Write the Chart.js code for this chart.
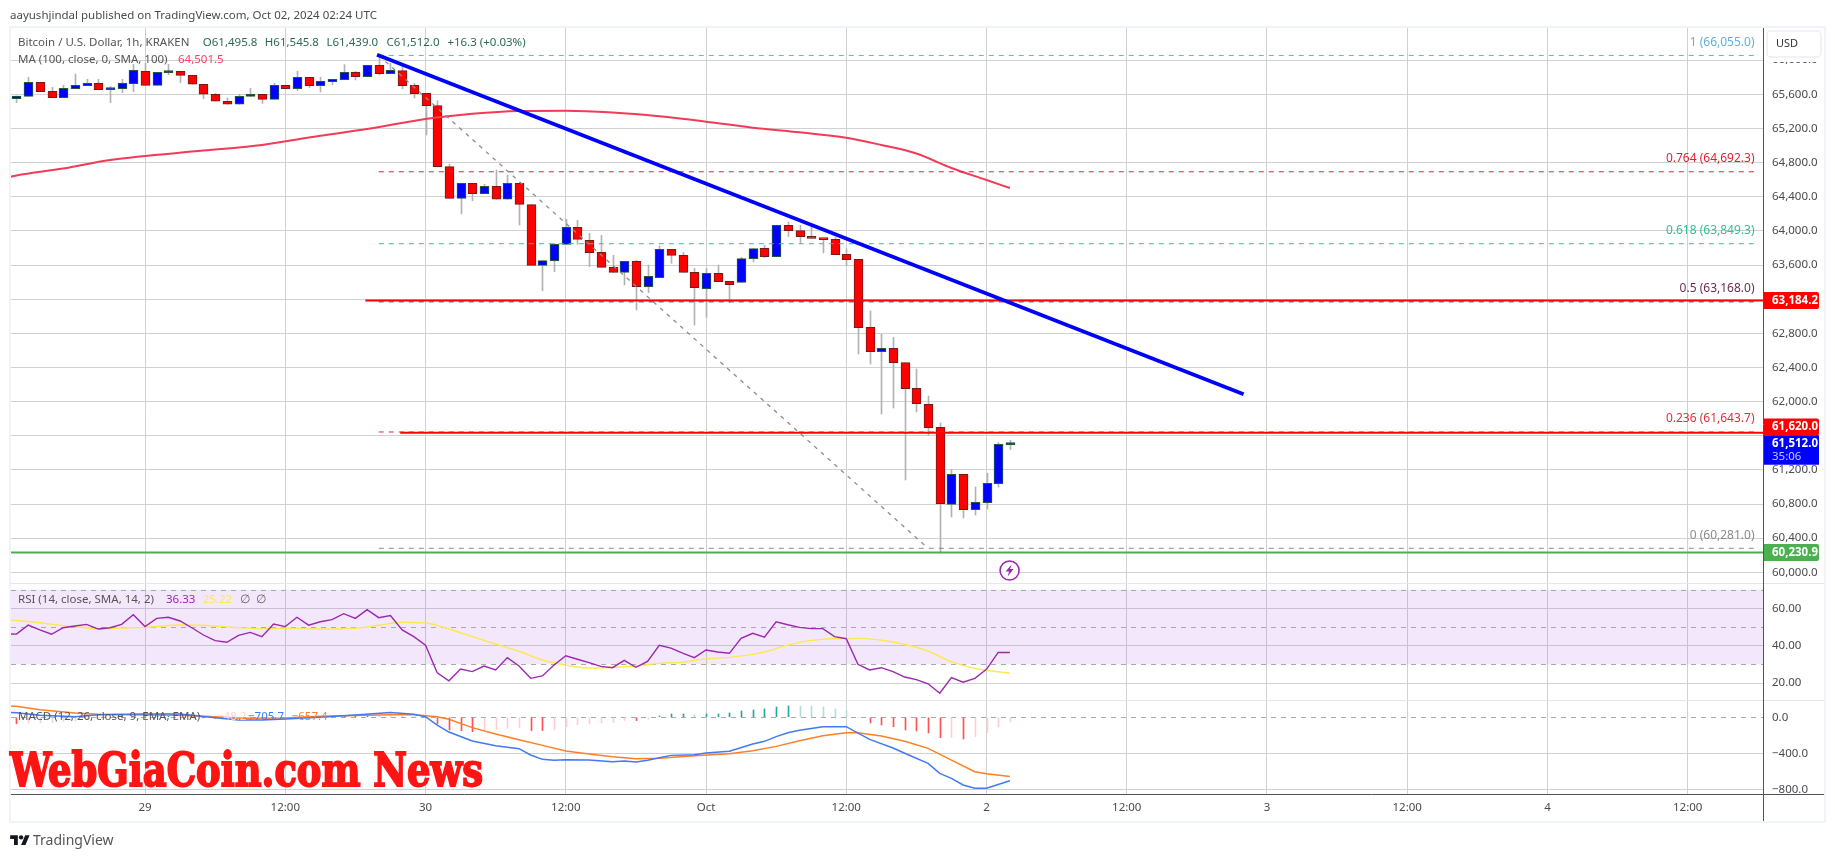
<!DOCTYPE html>
<html><head><meta charset="utf-8">
<script src="https://cdn.jsdelivr.net/npm/chart.js@4"></script>
<style>
html,body{margin:0;padding:0;background:#fff;width:1835px;height:857px;overflow:hidden}
#c{position:absolute;left:0;top:0}
.t{position:absolute;white-space:nowrap;transform:translateY(-50%);font:11.5px "Noto Sans",sans-serif;line-height:1}
#wm{position:absolute;left:10px;top:750px;font:900 46px "DejaVu Serif Condensed","DejaVu Serif",serif;font-weight:bold;color:#ff1414;-webkit-text-stroke:1.8px #ff1414;white-space:nowrap;transform-origin:0 0;line-height:40px}
#logo{position:absolute;left:10px;top:833px}
</style></head><body>
<canvas id="c" width="1835" height="857"></canvas>
<div id="wm">WebGiaCoin.com News</div>
<svg id="logo" width="20" height="12" viewBox="0 0 36 22"><path fill="#131722" d="M14 22H7V11H0V4h14v18zM28 22h-8l7.5-18h8L28 22z"/><circle fill="#131722" cx="20" cy="8" r="4"/></svg>
<script>
// ---------- data ----------
const hours = Array.from({length:86},(_,i)=>i+1);
const opens = [65549,65576,65740,65635,65561,65666,65701,65729,65654,65666,
65725,65869,65705,65854,65869,65822,65717,65600,65518,65483,
65576,65600,65541,65705,65666,65799,65701,65748,65771,65857,
65807,65939,65842,65877,65705,65611,65467,64752,64381,64557,
64436,64522,64370,64557,64307,63596,63651,63842,64041,63889,
63748,63573,63514,63643,63346,63452,63784,63713,63514,63323,
63502,63409,63397,63674,63795,63698,64065,64002,63936,63901,
63901,63725,63666,62870,62585,62624,62456,62155,61968,61698,
60796,61148,60734,60816,61038,61496];
const closes = [65580,65740,65631,65561,65670,65705,65729,65654,65670,65729,
65881,65705,65857,65873,65822,65717,65600,65518,65483,65576,
65600,65541,65705,65666,65799,65701,65752,65775,65857,65807,
65939,65842,65881,65701,65607,65467,64752,64381,64557,64436,
64522,64370,64557,64311,63596,63651,63842,64041,63901,63745,
63573,63514,63643,63346,63467,63784,63713,63514,63334,63502,
63405,63370,63674,63791,63698,64065,64002,63932,63912,63897,
63721,63662,62866,62585,62624,62456,62151,61976,61694,60804,
61148,60734,60820,61042,61499,61512];
const highs = [65580,65799,65740,65682,65705,65838,65775,65775,65690,65775,
65951,65963,65857,65951,65869,65822,65717,65611,65557,65600,
65670,65600,65728,65705,65869,65799,65799,65775,65947,65869,
65939,66055,65963,65924,65728,65611,65525,64780,64557,64557,
64545,64713,64651,64557,64307,63651,63854,64135,64123,63971,
63948,63713,63643,63655,63600,63823,63784,63748,63561,63561,
63600,63409,63690,63791,63830,64065,64104,64065,64049,63901,
63924,63791,63666,63061,62788,62753,62456,62382,62065,61749,
61206,61148,61000,61159,61519,61546];
const lows = [65502,65576,65631,65561,65561,65666,65701,65654,65502,65619,
65631,65705,65705,65830,65736,65717,65549,65518,65483,65483,
65576,65494,65541,65666,65643,65678,65627,65713,65771,65768,
65807,65826,65842,65666,65557,65123,64752,64381,64198,64354,
64436,64370,64370,64069,63596,63299,63522,63842,63842,63580,
63573,63514,63366,63073,63276,63452,63620,63514,62897,62987,
63405,63159,63397,63635,63686,63698,63932,63854,63912,63741,
63721,63592,62557,62440,61855,61925,61081,61878,61608,60225,
60648,60636,60671,60741,60999,61439];
const maHours  = [0,1,5,9,17,22,27,31,36,40,44,48,52,56,60,64,68,72,75,78,81,84,86];
const maValues = [64619,64649,64730,64830,64941,65006,65115,65193,65310,65371,65404,65408,65387,65342,65279,65208,65155,65091,65006,64906,64736,64596,64501.5];
const trendHours  = [31.85,106];
const trendValues = [66062,62085];
const fibHours = [32,79];
const fibDiagonal = [66055,60281];
const fibRatios = ['1','0.764','0.618','0.5','0.236','0'];
const fibPrices = [66055,64692.3,63849.3,63168,61643.7,60281];
const fibSpan = [32,150];
const levelPrices = [63184.2,61635,60230.9];
const levelStarts = [30.85,33.84,0];
const levelEnd = 151;
const rsiHours = Array.from({length:87},(_,i)=>i);
const rsiValues = [46.3,46.2,51.0,48.4,46.1,49.6,50.5,51.4,48.9,49.6,51.4,56.6,50.2,54.6,55.2,53.2,49.6,45.7,42.7,41.8,45.5,47.1,44.8,51.6,50.2,55.2,51.0,52.8,53.9,57.1,54.6,59.3,55.0,56.1,48.4,44.8,40.3,25.5,21.2,27.5,26.1,29.1,27.0,33.6,29.1,22.5,23.8,29.6,34.6,32.7,30.9,28.9,28.2,32.1,28.4,31.6,40.2,38.7,36.0,33.6,37.7,36.6,35.9,43.9,46.6,44.6,52.8,51.2,49.8,49.1,49.1,44.8,43.7,30.0,27.0,28.2,26.1,23.2,21.8,19.6,14.5,22.9,20.4,22.5,27.3,36.4,36.33];
const rsiMaHours = [0,1,3,5,7,8,10,12,15,18,20,22,24,27,30,32,34,36,38,40,42,44,46,48,50,52,54,56,58,60,62,64,65,67,69,71,73,76,79,81,83,84,86];
const rsiMaValues = [53.8,53.5,52.3,50.7,49.6,48.9,49.45,49.8,51.05,50.5,49.6,49.1,49.3,48.9,49.3,50.9,52.5,52.1,48.9,44.8,40.9,37,32.3,29.6,28,28.4,29.1,30.5,31.2,32.9,33.7,35.3,36.6,40.3,42.8,43.7,43.9,41.95,37.1,31.4,27.8,26.8,25.22];
const rsiLevels = [70,50,30];
const macdHours = [0,1,3,6,8,12,15,18,20,22,24,27,30,33,35,36,37,38,40,42,44,45,46,47,48,50,52,53,54,55,56,57,59,60,62,64,65,66,67,68,70,72,74,76,77,79,80,81,82,83,84,86];
const macdValues = [55,51,22,7,29,37,37,-4,-30,-30,-19,0,26,52,33,7,-86,-164,-264,-315,-349,-419,-467,-478,-471,-475,-493,-486,-497,-478,-449,-423,-415,-397,-378,-297,-267,-215,-171,-145,-104,-104,-245,-341,-400,-512,-623,-678,-752,-789,-789,-705.7];
const signalHours = [0,1,3,6,8,12,15,18,20,24,27,31,33,35,37,38,40,42,44,46,48,50,52,54,56,59,62,64,66,68,70,72,73,75,77,79,81,83,84,86];
const signalValues = [125,122,85,48,33,26,22,7,-11,-8,11,22,29,29,7,-22,-115,-186,-249,-312,-375,-408,-438,-460,-456,-426,-404,-371,-323,-260,-204,-171,-171,-208,-267,-345,-475,-604,-627,-657.4];
const histValues = [-71,-66,-63,-55,-48,-41,-25,-10,-6,-8,-4,6,10,12,8,4,-6,-12,-20,-22,-24,-20,-14,-10,-6,-2,4,8,12,14,30,26,20,12,6,-4,-74,-141,-149,-160,-149,-133,-122,-115,-148,-148,-141,-104,-82,-74,-63,-59,-37,-37,-22,15,37,37,26,37,37,48,70,81,93,115,126,125,124,115,93,74,0,-63,-85,-104,-141,-152,-174,-226,-225,-241,-215,-170,-107,-52];
const priceTicks = [60000,60400,60800,61200,61600,62000,62400,62800,63200,63600,64000,64400,64800,65200,65600,66000];
const rsiTicks = [20,40,60];
const macdTicks = [-800,-400,0];
const timeHours = [12,24,36,48,60,72,84,96,108,120,132,144];
const timeLabels = ['29','12:00','30','12:00','Oct','12:00','2','12:00','3','12:00','4','12:00'];
const lastPrice = 61512, resTag = 63184.2, res2Tag = 61620, supTag = 60230.9;

// ---------- styles ----------
const UI = '"Noto Sans",sans-serif';
const GRID = '#d1d1d1';
const zip = (xs,ys)=>xs.map((x,i)=>({x,y:ys[i]}));
const BLUE='#0000ff', RED='#ff0000';
const up = closes.map((c,i)=>c>=opens[i]);
const fibColors = ['#62b0da','#e01f35','#2fc194','#6a2b52','#e0303c','#8a8a8a'];

const line=(yAxisID,order,data,color,width,extra={})=>({type:'line',yAxisID,xAxisID:'x',order,data,borderColor:color,borderWidth:width,pointRadius:0,tension:0,fill:false,...extra});

const datasets=[
  line('yP',1,zip(trendHours,trendValues),BLUE,3.7),
  ...levelPrices.map((p,i)=>line('yP',2,[{x:levelStarts[i],y:p},{x:levelEnd,y:p}], i===2?'#4caf50':RED, 2)),
  ...fibPrices.map((p,i)=>line('yP',3,[{x:fibSpan[0],y:p},{x:fibSpan[1],y:p}],fibColors[i],1,{borderDash:[5,5]})),
  line('yP',4,zip(fibHours,fibDiagonal),'#8c8c8c',1.3,{borderDash:[4,5]}),
  line('yP',5,zip(maHours,maValues),'#f23b57',2,{cubicInterpolationMode:'monotone'}),
  {type:'bar',label:'body',yAxisID:'yP',xAxisID:'x',order:6,grouped:false,barThickness:9,minBarLength:2,
   data:hours.map((h,i)=>({x:h,y:[opens[i],closes[i]]})),
   backgroundColor:up.map(u=>u?BLUE:RED),borderColor:up.map(u=>u?'#1d5b3c':'#701c1c'),borderWidth:1,borderSkipped:false},
  {type:'bar',label:'wick',yAxisID:'yP',xAxisID:'x',order:7,grouped:false,barThickness:1,
   data:hours.map((h,i)=>({x:h,y:[lows[i],highs[i]]})),backgroundColor:'#b2b2b2',borderWidth:0},
  line('yR',8,zip(rsiHours,rsiValues),'#9c27b0',1.4),
  line('yR',9,zip(rsiMaHours,rsiMaValues),'#fde84e',1.4,{cubicInterpolationMode:'monotone'}),
  line('yM',10,zip(macdHours,macdValues),'#4279f4',1.5),
  line('yM',11,zip(signalHours,signalValues),'#ff7f27',1.5),
  {type:'bar',label:'hist',yAxisID:'yM',xAxisID:'x',order:12,grouped:false,barThickness:1,
   data:hours.map((h,i)=>({x:h,y:[0,histValues[i]]})),
   backgroundColor:histValues.map((v,i)=>{const p=i?histValues[i-1]:0;
     return v>=0?(v>=p?'#26a69a':'#b2dfdb'):(v<=p?'#ff5252':'#ffcdd2');}),borderWidth:0},
];

const fmtPrice=v=>v.toLocaleString('en-US',{minimumFractionDigits:1,maximumFractionDigits:1});
const fixedY=(list,fmt,extra)=>Object.assign({
  type:'linear',position:'right',stack:'panes',offset:false,
  grid:{color:GRID,lineWidth:1,drawTicks:false},border:{display:false},
  ticks:{autoSkip:false,padding:9,color:'#4a4a4a',font:{family:UI,size:11.5},callback:fmt},
  afterBuildTicks:s=>{s.ticks=list.map(value=>({value}));},
  afterFit:s=>{s.width=62;}
},extra);

const plugin={
  id:'tv',
  afterDatasetsUpdate(chart){
    // snap candle columns to whole pixels
    chart.data.datasets.forEach((d,i)=>{ if(d.type==='bar') chart.getDatasetMeta(i).data.forEach(el=>{el.x=Math.round(el.x)+0.5;}); });
  },
  beforeDatasetsDraw(chart){
    const {ctx,chartArea:a,scales:{yR,yM}}=chart;
    ctx.save();
    ctx.fillStyle='rgba(142,36,220,0.11)';
    ctx.fillRect(a.left,yR.getPixelForValue(70),a.right-a.left,yR.getPixelForValue(30)-yR.getPixelForValue(70));
    ctx.strokeStyle='#a9a9a9';ctx.lineWidth=1;ctx.setLineDash([5,5]);
    const h=(y)=>{y=Math.round(y)+.5;ctx.beginPath();ctx.moveTo(a.left,y);ctx.lineTo(a.right,y);ctx.stroke();};
    rsiLevels.forEach(v=>h(yR.getPixelForValue(v)));
    h(yM.getPixelForValue(0));
    ctx.restore();
  },
  afterDraw(chart){
    const {ctx,chartArea:a,scales:{x,yP,yR,yM}}=chart;
    ctx.save();
    // pane separators and frame
    ctx.setLineDash([]);
    ctx.strokeStyle='#e4e6ee';ctx.lineWidth=1;
    [yP.bottom,yR.bottom].forEach(y=>{y=Math.round(y)+.5;ctx.beginPath();ctx.moveTo(a.left,y);ctx.lineTo(1825,y);ctx.stroke();});
    ctx.strokeStyle='#50535e';
    ctx.beginPath();ctx.moveTo(a.left,a.bottom+.5);ctx.lineTo(1825,a.bottom+.5);ctx.moveTo(a.right+.5,a.top);ctx.lineTo(a.right+.5,822);ctx.stroke();
    ctx.strokeStyle='#f0f3fa';ctx.lineWidth=2;ctx.strokeRect(10,27,1815,795);
    // USD button
    ctx.fillStyle='#fff';ctx.fillRect(a.right+1,28,60,34);
    ctx.strokeStyle='#eceef5';ctx.lineWidth=1.5;ctx.beginPath();ctx.roundRect(1767,31,54,26,4);ctx.stroke();
    ctx.fillStyle='#333';ctx.font='11px '+UI;ctx.textAlign='left';ctx.textBaseline='middle';ctx.fillText('USD',1776,44);
    // fib labels
    ctx.textAlign='right';ctx.textBaseline='middle';ctx.font='12px '+UI;
    fibPrices.forEach((p,i)=>{ctx.fillStyle=fibColors[i];ctx.fillText(fibRatios[i]+' ('+fmtPrice(p)+')',1754.5,yP.getPixelForValue(p)-13);});
    // price tags
    const tag=(v,text,bg,dy=0,h=17)=>{const y=yP.getPixelForValue(v)+dy;ctx.fillStyle=bg;ctx.beginPath();ctx.roundRect(1764,y-h/2,55,h,[0,2,2,0]);ctx.fill();
      ctx.fillStyle='#fff';ctx.font='bold 11.5px '+UI;ctx.textAlign='left';ctx.fillText(text,1772,y);};
    tag(resTag,fmtPrice(resTag),RED);
    tag(supTag,fmtPrice(supTag),'#4caf50');
    const ly=yP.getPixelForValue(lastPrice);
    ctx.fillStyle=BLUE;ctx.fillRect(1764,ly-8,55,29.5);
    ctx.fillStyle='#fff';ctx.font='bold 11.5px '+UI;ctx.fillText(fmtPrice(lastPrice),1772,ly);
    ctx.fillStyle='#c8c8ff';ctx.font='11.5px '+UI;ctx.fillText('35:06',1772,ly+13);
    tag(res2Tag,fmtPrice(res2Tag),RED,-7);
    // flash icon under the last bar
    const cx=x.getPixelForValue(86)-0.3, cy=570.5;
    ctx.fillStyle='#fff';ctx.strokeStyle='#9c27b0';ctx.lineWidth=1.6;ctx.beginPath();ctx.arc(cx,cy,9.5,0,Math.PI*2);ctx.fill();ctx.stroke();
    ctx.fillStyle='#9c27b0';ctx.beginPath();
    [[2,-6],[-4,1],[-0.5,1],[-2,6],[4,-1.5],[0.5,-1.5]].forEach((p,i)=>i?ctx.lineTo(cx+p[0],cy+p[1]):ctx.moveTo(cx+p[0],cy+p[1]));
    ctx.closePath();ctx.fill();
    ctx.restore();
  }
};

new Chart(document.getElementById('c'),{
  data:{datasets},
  plugins:[plugin],
  options:{
    responsive:false,animation:false,devicePixelRatio:1,
    layout:{padding:{left:11,right:10,top:27,bottom:35}},
    plugins:{legend:{display:false},tooltip:{enabled:false},title:{display:false}},
    scales:{
      x:{type:'linear',position:'bottom',min:0.5326,max:150.44,offset:false,
        grid:{color:GRID,drawTicks:false,offset:false},border:{display:false},
        afterBuildTicks:s=>{s.ticks=timeHours.map(value=>({value}));},
        afterFit:s=>{s.height=28;},
        ticks:{autoSkip:false,maxRotation:0,padding:7,color:'#4a4a4a',font:{family:UI,size:11.5},
          callback:(v,i)=>timeLabels[i]}},
      yP:fixedY(priceTicks,v=>fmtPrice(v),{stackWeight:556,min:59874.6,max:66388.2}),
      yR:fixedY(rsiTicks,v=>v.toFixed(2),{stackWeight:117,min:10.9,max:73.55}),
      yM:fixedY(macdTicks,v=>(v<0?'\u2212':'')+Math.abs(v).toFixed(1),{stackWeight:94,min:-852,max:192,
        grid:{color:c=>c.tick&&c.tick.value===0?'transparent':GRID,drawTicks:false}})
    }
  }
});

// ---------- text overlays ----------
const texts=[
 ['aayushjindal published on TradingView.com, Oct 02, 2024 02:24 UTC',10,15,'#4a4a4a',11.5],
 ['Bitcoin / U.S. Dollar, 1h, KRAKEN',18,41.7,'#555'],
 ['O61,495.8',202.8,41.7,'#2c6b4f'],['H61,545.8',264.8,41.7,'#2c6b4f'],['L61,439.0',326.5,41.7,'#2c6b4f'],['C61,512.0',386.6,41.7,'#2c6b4f'],['+16.3 (+0.03%)',447.4,41.7,'#2c6b4f'],
 ['MA (100, close, 0, SMA, 100)',18,59,'#555'],['64,501.5',178,59,'#f7415e'],
 ['RSI (14, close, SMA, 14, 2)',18,598.7,'#555'],['36.33',166,598.7,'#9c27b0'],['25.22',202.7,598.7,'#fde84e'],['\u2205',240,598.7,'#666'],['\u2205',255.7,598.7,'#666'],
 ['MACD (12, 26, close, 9, EMA, EMA)',18,715.7,'#555'],['\u221248.2',217,715.7,'#ffcdd2'],['\u2212705.7',248,715.7,'#4279f4'],['\u2212657.4',291.7,715.7,'#ff7f27'],
 ['TradingView',33,839.5,'#555',14]
];
texts.forEach(([s,l,y,c,f])=>{const e=document.createElement('div');e.className='t';e.textContent=s;e.style.left=l+'px';e.style.top=y+'px';e.style.color=c;if(f)e.style.fontSize=f+'px';document.body.appendChild(e);});
const wm=document.getElementById('wm');
wm.style.transform='scaleX('+(473/wm.getBoundingClientRect().width)+')';
</script>
</body></html>
